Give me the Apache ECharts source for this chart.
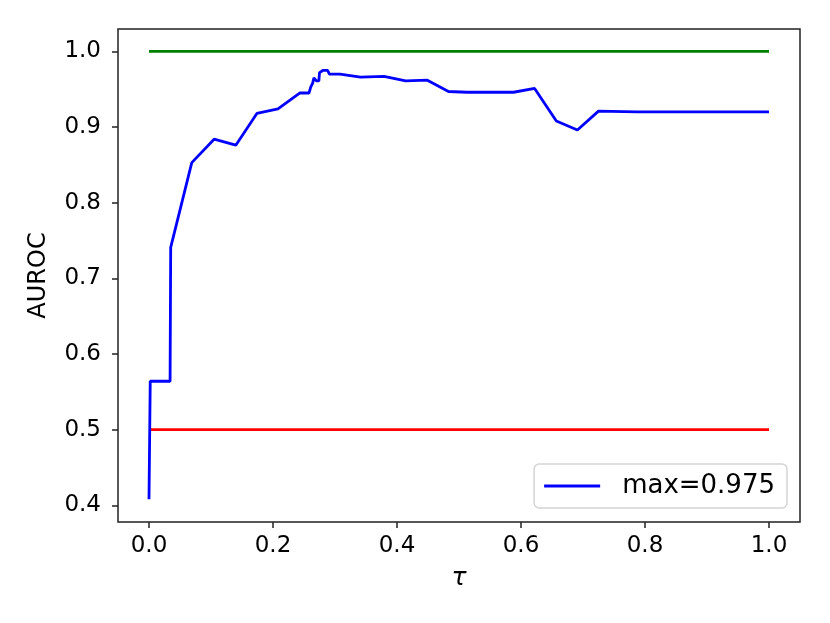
<!DOCTYPE html>
<html><head><meta charset="utf-8">
<script src="https://cdn.jsdelivr.net/npm/echarts@6/dist/echarts.min.js"></script>
<style>html,body{margin:0;padding:0;background:#fff}#c{width:830px;height:623px}</style>
</head><body><div id="c"></div>
<script>
const tau = [0.0, 0.002, 0.034, 0.035, 0.069, 0.105, 0.140, 0.174, 0.208, 0.243, 0.258, 0.261, 0.264, 0.266, 0.270, 0.274, 0.275, 0.281, 0.288, 0.291, 0.308, 0.341, 0.379, 0.414, 0.449, 0.483, 0.513, 0.588, 0.622, 0.657, 0.691, 0.725, 0.787, 1.0];
const auroc = [0.408, 0.564, 0.564, 0.741, 0.853, 0.884, 0.876, 0.918, 0.924, 0.945, 0.945, 0.953, 0.958, 0.965, 0.961, 0.961, 0.972, 0.975, 0.975, 0.970, 0.970, 0.966, 0.967, 0.961, 0.962, 0.947, 0.946, 0.946, 0.951, 0.908, 0.896, 0.921, 0.920, 0.920];
const perfectX = [0, 1], perfectY = [1.0, 1.0];
const chanceX = [0, 1], chanceY = [0.5, 0.5];
const xTicks = [0, 0.2, 0.4, 0.6, 0.8, 1.0];
const yTicks = [0.4, 0.5, 0.6, 0.7, 0.8, 0.9, 1.0];
const legendLabel = 'max=0.975';

const zip = (a, b) => a.map((v, i) => [v, b[i]]);
const font = 'DejaVu Sans';
const chart = echarts.init(document.getElementById('c'), null, {renderer: 'canvas'});
chart.setOption({
  animation: false,
  backgroundColor: '#fff',
  textStyle: {fontFamily: font},
  grid: {left: 118, right: 30, top: 29, bottom: 101, show: true, borderColor: '#222', borderWidth: 1.5, backgroundColor: 'transparent'},
  legend: {
    data: [{name: legendLabel, icon: 'rect'}], right: 43, bottom: 115, orient: 'vertical',
    backgroundColor: '#fff', borderColor: '#d4d4d4', borderWidth: 1.5, borderRadius: 5,
    padding: [9, 12, 9, 10], itemWidth: 56, itemHeight: 3, itemGap: 0,
    textStyle: {fontSize: 26, color: '#000', fontFamily: font, padding: [0, 0, 0, 17]}
  },
  xAxis: {
    type: 'value', min: -0.05, max: 1.05,
    name: 'τ', nameLocation: 'middle', nameGap: 44,
    nameTextStyle: {fontSize: 25, color: '#000', fontFamily: font, fontStyle: 'italic'},
    axisLine: {show: false, onZero: false},
    axisTick: {show: true, length: 6, inside: false, lineStyle: {color: '#222', width: 1.5}, customValues: xTicks},
    axisLabel: {fontSize: 23, color: '#000', margin: 13, customValues: xTicks, formatter: v => v.toFixed(1)},
    splitLine: {show: false}
  },
  yAxis: {
    type: 'value', min: 0.378, max: 1.0296,
    name: 'AUROC', nameLocation: 'middle', nameGap: 67, nameRotate: 90,
    nameTextStyle: {fontSize: 24, color: '#000', fontFamily: font},
    axisLine: {show: false, onZero: false},
    axisTick: {show: true, length: 6, inside: false, lineStyle: {color: '#222', width: 1.5}, customValues: yTicks},
    axisLabel: {fontSize: 23, color: '#000', margin: 17, customValues: yTicks, formatter: v => v.toFixed(1)},
    splitLine: {show: false}
  },
  series: [
    {type: 'line', name: 'perfect', data: zip(perfectX, perfectY), symbol: 'none', lineStyle: {color: '#008000', width: 2.8}, itemStyle: {color: '#008000'}},
    {type: 'line', name: 'chance', data: zip(chanceX, chanceY), symbol: 'none', lineStyle: {color: '#ff0000', width: 2.8}, itemStyle: {color: '#ff0000'}},
    {type: 'line', name: legendLabel, data: zip(tau, auroc), symbol: 'none', lineStyle: {color: '#0000ff', width: 2.8}, itemStyle: {color: '#0000ff'}, z: 3}
  ]
});
</script></body></html>
